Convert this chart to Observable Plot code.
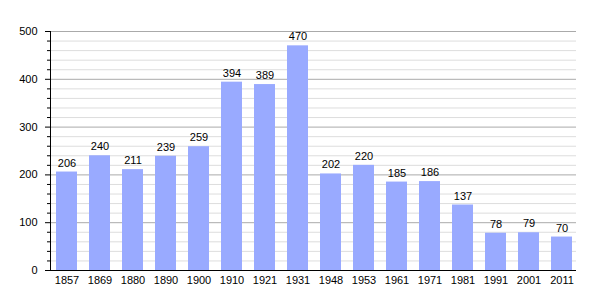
<!DOCTYPE html>
<html>
<head>
<meta charset="utf-8">
<script src="https://cdn.jsdelivr.net/npm/d3@7"></script>
<script src="https://cdn.jsdelivr.net/npm/@observablehq/plot@0.6"></script>
<style>
  html, body { margin: 0; padding: 0; background: #fff; }
  #chart svg { display: block; }
</style>
</head>
<body>
<div id="chart"></div>
<script>
const years = ["1857","1869","1880","1890","1900","1910","1921","1931","1948","1953","1961","1971","1981","1991","2001","2011"];
const population = [206,240,211,239,259,394,389,470,202,220,185,186,137,78,79,70];
const majorTicks = [0,100,200,300,400,500];
const minorTicks = d3.range(0, 501, 20).filter(v => v % 100 !== 0);

const data = years.map((y, i) => ({year: y, pop: population[i]}));

const chart = Plot.plot({
  width: 605,
  height: 300,
  marginLeft: 50,
  marginRight: 29,
  marginTop: 31,
  marginBottom: 30,
  style: {fontFamily: "'Liberation Sans', Arial, sans-serif", fontSize: "11px", color: "#000", background: "#fff"},
  x: {domain: years, range: [51, 576], paddingInner: 0.375, paddingOuter: 0, label: null},
  y: {domain: [0, 500], label: null},
  marks: [
    Plot.ruleY(minorTicks, {stroke: "#dddddd", strokeWidth: 1}),
    Plot.ruleY(majorTicks.filter(v => v > 0), {stroke: "#aaaaaa", strokeWidth: 1}),
    Plot.barY(data, {x: "year", y: "pop", fill: "#99aaff"}),
    Plot.text(data, {x: "year", y: "pop", text: d => String(d.pop), dy: -9, fill: "#000", fontSize: 11}),
    Plot.axisY(minorTicks, {tickSize: 3, text: null, stroke: "#000"}),
    Plot.axisY(majorTicks, {tickSize: 5, tickPadding: 8, stroke: "#000", fill: "#000", fontSize: 11}),
    Plot.axisX({tickSize: 0, tickPadding: 6, fill: "#000", fontSize: 11}),
    Plot.frame({anchor: "left", stroke: "#000"}),
    Plot.ruleY([0], {stroke: "#000"}),
  ]
});
document.getElementById("chart").appendChild(chart);
</script>
</body>
</html>
